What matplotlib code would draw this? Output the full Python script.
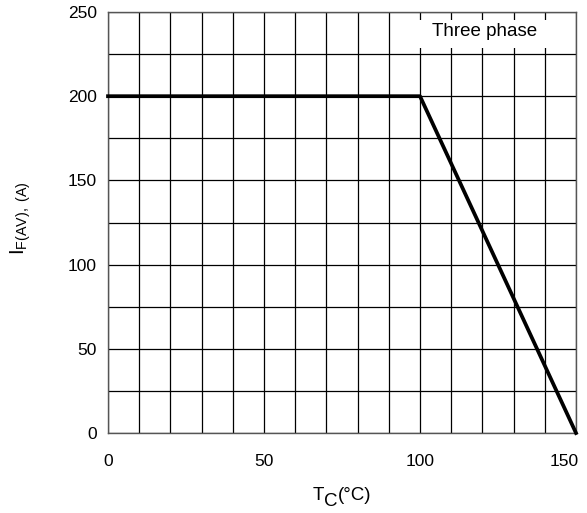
import matplotlib
matplotlib.use("Agg")
import matplotlib.pyplot as plt
import matplotlib.transforms as mtransforms
from matplotlib.patches import Rectangle

plt.rcParams['font.family'] = ['Liberation Sans', 'DejaVu Sans']
plt.rcParams['mathtext.fontset'] = 'custom'
plt.rcParams['mathtext.rm'] = 'Liberation Sans'
plt.rcParams['mathtext.it'] = 'Liberation Sans'

tc = [0, 100, 150]
current = [200, 200, 0]
xticks = [0, 50, 100, 150]
yticks = [0, 50, 100, 150, 200, 250]

W, H = 587, 513
fig = plt.figure(figsize=(W/100, H/100), dpi=100)
ax = fig.add_axes([108/W, 1-433/H, (576-108)/W, (433-12)/H])

ax.set_xlim(0, 150)
ax.set_ylim(0, 250)
ax.set_xticks(range(0, 151, 10), minor=True)
ax.set_yticks(range(0, 251, 25), minor=True)
ax.set_xticks(xticks)
ax.set_yticks(yticks)
ax.grid(True, which='both', color='black', linewidth=0.9)
ax.tick_params(which='both', length=0, labelsize=12.5)
ax.tick_params(axis='y', pad=8)
ax.tick_params(axis='x', pad=15)
for s in ax.spines.values():
    s.set_color('#555555')
    s.set_linewidth(1.0)

# shift last x tick label left as in reference
off = mtransforms.ScaledTranslation(-12/100, 0, fig.dpi_scale_trans)
last = ax.xaxis.get_major_ticks()[-1]
last.label1.set_transform(last.label1.get_transform() + off)

ax.plot(tc, current, color='black', linewidth=2.7, zorder=5, clip_on=False)

ax.add_patch(Rectangle((0.656, 0.9145), 0.998-0.656, 0.981-0.9145,
                       transform=ax.transAxes, facecolor='white', edgecolor='none', zorder=3))
ax.text(0.8056, 0.9525, 'Three phase', transform=ax.transAxes, ha='center', va='center',
        fontsize=13.5, zorder=6)

# y label
ax.set_ylabel(r'$\mathregular{I_{F(AV),\ (A)}}$', fontsize=14.7)
ax.yaxis.set_label_coords(-0.16, 0.51)

# x label built from pieces: T, subscript C, (°C)
t1 = fig.text(313/W, (H-500)/H, 'T', fontsize=13.5, ha='left', va='baseline')
t2 = ax.annotate('C', xy=(1, 0), xycoords=t1, xytext=(0, -4.3), textcoords='offset points',
                 fontsize=13.5, ha='left', va='bottom', annotation_clip=False)
t3 = ax.annotate('(°C)', xy=(1, 0), xycoords=t2, xytext=(0, 4.3), textcoords='offset points',
                 fontsize=13.5, ha='left', va='bottom', annotation_clip=False)

fig.savefig('out.png', dpi=100)
